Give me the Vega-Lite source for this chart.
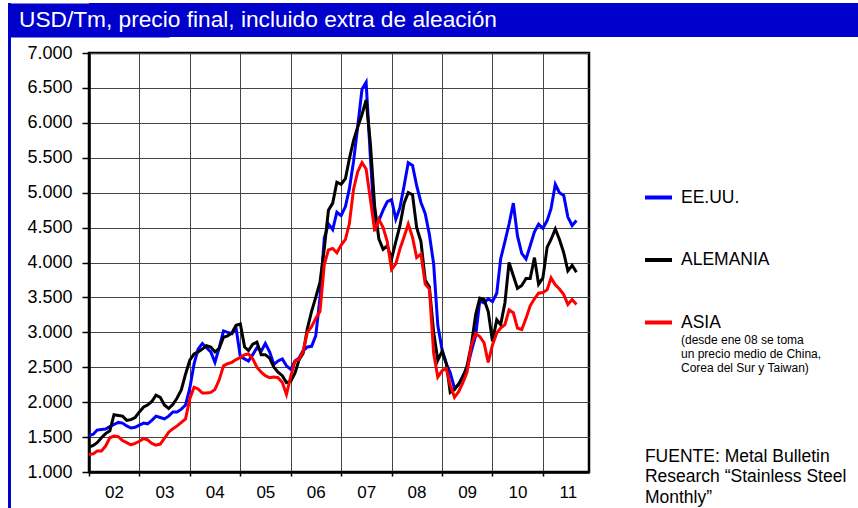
{
  "$schema": "https://vega.github.io/schema/vega-lite/v6.json",
  "padding": {"left": 6, "top": 3, "right": 0, "bottom": 0},
  "spacing": 0,
  "config": {
    "font": "Liberation Sans",
    "view": {"stroke": null},
    "locale": {"number": {"decimal": ",", "thousands": ".", "grouping": [3], "currency": ["", " €"]}}
  },
  "hconcat": [
    {
      "data": {"values": [{"k": 1}]},
      "width": 3,
      "height": 505,
      "view": {"fill": "#0000CC", "stroke": null},
      "mark": {"type": "point", "opacity": 0},
      "encoding": {}
    },
    {
      "spacing": 5,
      "vconcat": [
        {
          "data": {"values": [{"t": "USD/Tm, precio final, incluido extra de aleación"}]},
          "width": 769,
          "height": 34,
          "view": {"fill": "#0000CC", "stroke": null},
          "mark": {"type": "text", "align": "left", "baseline": "middle", "color": "white", "fontSize": 22.7, "font": "Liberation Sans", "dx": -70},
          "encoding": {
            "text": {"field": "t"},
            "x": {"datum": 0, "type": "quantitative", "scale": {"domain": [0, 1]}, "axis": null},
            "y": {"datum": 0.5, "type": "quantitative", "scale": {"domain": [0, 1]},
                  "axis": {"title": null, "labels": false, "ticks": false, "grid": false, "domain": true, "domainColor": "#0000CC", "domainWidth": 160, "domainCap": "butt", "zindex": 0, "minExtent": 0}}
          }
        },
        {
          "spacing": 0,
          "hconcat": [
            {
              "width": 500,
              "height": 419,
              "view": {"stroke": "black", "strokeWidth": 2.5},
              "data": {"values": [
                {"fecha": "2002-01-01", "EEUU": 1520, "ALEMANIA": 1357, "ASIA": 1250},
                {"fecha": "2002-02-01", "EEUU": 1540, "ALEMANIA": 1380, "ASIA": 1260},
                {"fecha": "2002-03-01", "EEUU": 1600, "ALEMANIA": 1420, "ASIA": 1300},
                {"fecha": "2002-04-01", "EEUU": 1610, "ALEMANIA": 1490, "ASIA": 1300},
                {"fecha": "2002-05-01", "EEUU": 1615, "ALEMANIA": 1550, "ASIA": 1370},
                {"fecha": "2002-06-01", "EEUU": 1650, "ALEMANIA": 1590, "ASIA": 1490},
                {"fecha": "2002-07-01", "EEUU": 1680, "ALEMANIA": 1820, "ASIA": 1515},
                {"fecha": "2002-08-01", "EEUU": 1710, "ALEMANIA": 1810, "ASIA": 1505},
                {"fecha": "2002-09-01", "EEUU": 1700, "ALEMANIA": 1800, "ASIA": 1450},
                {"fecha": "2002-10-01", "EEUU": 1660, "ALEMANIA": 1740, "ASIA": 1420},
                {"fecha": "2002-11-01", "EEUU": 1630, "ALEMANIA": 1750, "ASIA": 1390},
                {"fecha": "2002-12-01", "EEUU": 1640, "ALEMANIA": 1780, "ASIA": 1410},
                {"fecha": "2003-01-01", "EEUU": 1670, "ALEMANIA": 1860, "ASIA": 1440},
                {"fecha": "2003-02-01", "EEUU": 1700, "ALEMANIA": 1930, "ASIA": 1480},
                {"fecha": "2003-03-01", "EEUU": 1690, "ALEMANIA": 1960, "ASIA": 1460},
                {"fecha": "2003-04-01", "EEUU": 1740, "ALEMANIA": 2010, "ASIA": 1410},
                {"fecha": "2003-05-01", "EEUU": 1800, "ALEMANIA": 2100, "ASIA": 1385},
                {"fecha": "2003-06-01", "EEUU": 1780, "ALEMANIA": 2070, "ASIA": 1400},
                {"fecha": "2003-07-01", "EEUU": 1760, "ALEMANIA": 1960, "ASIA": 1480},
                {"fecha": "2003-08-01", "EEUU": 1800, "ALEMANIA": 1910, "ASIA": 1570},
                {"fecha": "2003-09-01", "EEUU": 1860, "ALEMANIA": 1970, "ASIA": 1620},
                {"fecha": "2003-10-01", "EEUU": 1860, "ALEMANIA": 2060, "ASIA": 1660},
                {"fecha": "2003-11-01", "EEUU": 1900, "ALEMANIA": 2180, "ASIA": 1710},
                {"fecha": "2003-12-01", "EEUU": 1960, "ALEMANIA": 2400, "ASIA": 1760},
                {"fecha": "2004-01-01", "EEUU": 2200, "ALEMANIA": 2600, "ASIA": 2050},
                {"fecha": "2004-02-01", "EEUU": 2550, "ALEMANIA": 2690, "ASIA": 2215},
                {"fecha": "2004-03-01", "EEUU": 2760, "ALEMANIA": 2720, "ASIA": 2190},
                {"fecha": "2004-04-01", "EEUU": 2840, "ALEMANIA": 2760, "ASIA": 2130},
                {"fecha": "2004-05-01", "EEUU": 2780, "ALEMANIA": 2810, "ASIA": 2130},
                {"fecha": "2004-06-01", "EEUU": 2720, "ALEMANIA": 2790, "ASIA": 2140},
                {"fecha": "2004-07-01", "EEUU": 2570, "ALEMANIA": 2720, "ASIA": 2180},
                {"fecha": "2004-08-01", "EEUU": 2780, "ALEMANIA": 2770, "ASIA": 2320},
                {"fecha": "2004-09-01", "EEUU": 3020, "ALEMANIA": 2930, "ASIA": 2520},
                {"fecha": "2004-10-01", "EEUU": 3000, "ALEMANIA": 2950, "ASIA": 2550},
                {"fecha": "2004-11-01", "EEUU": 2980, "ALEMANIA": 2990, "ASIA": 2570},
                {"fecha": "2004-12-01", "EEUU": 3060, "ALEMANIA": 3100, "ASIA": 2610},
                {"fecha": "2005-01-01", "EEUU": 2650, "ALEMANIA": 3120, "ASIA": 2640},
                {"fecha": "2005-02-01", "EEUU": 2620, "ALEMANIA": 2790, "ASIA": 2680},
                {"fecha": "2005-03-01", "EEUU": 2590, "ALEMANIA": 2740, "ASIA": 2690},
                {"fecha": "2005-04-01", "EEUU": 2680, "ALEMANIA": 2830, "ASIA": 2620},
                {"fecha": "2005-05-01", "EEUU": 2780, "ALEMANIA": 2860, "ASIA": 2500},
                {"fecha": "2005-06-01", "EEUU": 2730, "ALEMANIA": 2680, "ASIA": 2430},
                {"fecha": "2005-07-01", "EEUU": 2840, "ALEMANIA": 2680, "ASIA": 2380},
                {"fecha": "2005-08-01", "EEUU": 2720, "ALEMANIA": 2630, "ASIA": 2350},
                {"fecha": "2005-09-01", "EEUU": 2540, "ALEMANIA": 2500, "ASIA": 2360},
                {"fecha": "2005-10-01", "EEUU": 2590, "ALEMANIA": 2430, "ASIA": 2350},
                {"fecha": "2005-11-01", "EEUU": 2620, "ALEMANIA": 2380, "ASIA": 2280},
                {"fecha": "2005-12-01", "EEUU": 2520, "ALEMANIA": 2280, "ASIA": 2110},
                {"fecha": "2006-01-01", "EEUU": 2470, "ALEMANIA": 2300, "ASIA": 2370},
                {"fecha": "2006-02-01", "EEUU": 2590, "ALEMANIA": 2420, "ASIA": 2590},
                {"fecha": "2006-03-01", "EEUU": 2630, "ALEMANIA": 2600, "ASIA": 2610},
                {"fecha": "2006-04-01", "EEUU": 2740, "ALEMANIA": 2700, "ASIA": 2730},
                {"fecha": "2006-05-01", "EEUU": 2790, "ALEMANIA": 3050, "ASIA": 3000},
                {"fecha": "2006-06-01", "EEUU": 2800, "ALEMANIA": 3300, "ASIA": 3080},
                {"fecha": "2006-07-01", "EEUU": 2950, "ALEMANIA": 3500, "ASIA": 3200},
                {"fecha": "2006-08-01", "EEUU": 3500, "ALEMANIA": 3720, "ASIA": 3300},
                {"fecha": "2006-09-01", "EEUU": 4350, "ALEMANIA": 4200, "ASIA": 3970},
                {"fecha": "2006-10-01", "EEUU": 4550, "ALEMANIA": 4750, "ASIA": 4180},
                {"fecha": "2006-11-01", "EEUU": 4470, "ALEMANIA": 4850, "ASIA": 4200},
                {"fecha": "2006-12-01", "EEUU": 4720, "ALEMANIA": 5150, "ASIA": 4140},
                {"fecha": "2007-01-01", "EEUU": 4670, "ALEMANIA": 5120, "ASIA": 4250},
                {"fecha": "2007-02-01", "EEUU": 4800, "ALEMANIA": 5200, "ASIA": 4330},
                {"fecha": "2007-03-01", "EEUU": 5050, "ALEMANIA": 5480, "ASIA": 4550},
                {"fecha": "2007-04-01", "EEUU": 5450, "ALEMANIA": 5750, "ASIA": 5050},
                {"fecha": "2007-05-01", "EEUU": 5950, "ALEMANIA": 5940, "ASIA": 5300},
                {"fecha": "2007-06-01", "EEUU": 6480, "ALEMANIA": 6120, "ASIA": 5430},
                {"fecha": "2007-07-01", "EEUU": 6580, "ALEMANIA": 6330, "ASIA": 5340},
                {"fecha": "2007-08-01", "EEUU": 5500, "ALEMANIA": 5700, "ASIA": 4900},
                {"fecha": "2007-09-01", "EEUU": 4500, "ALEMANIA": 4800, "ASIA": 4450},
                {"fecha": "2007-10-01", "EEUU": 4600, "ALEMANIA": 4340, "ASIA": 4620},
                {"fecha": "2007-11-01", "EEUU": 4750, "ALEMANIA": 4190, "ASIA": 4500},
                {"fecha": "2007-12-01", "EEUU": 4870, "ALEMANIA": 4240, "ASIA": 4300},
                {"fecha": "2008-01-01", "EEUU": 4900, "ALEMANIA": 4050, "ASIA": 3900},
                {"fecha": "2008-02-01", "EEUU": 4620, "ALEMANIA": 4300, "ASIA": 3980},
                {"fecha": "2008-03-01", "EEUU": 4780, "ALEMANIA": 4520, "ASIA": 4190},
                {"fecha": "2008-04-01", "EEUU": 5100, "ALEMANIA": 4850, "ASIA": 4370},
                {"fecha": "2008-05-01", "EEUU": 5430, "ALEMANIA": 5000, "ASIA": 4550},
                {"fecha": "2008-06-01", "EEUU": 5390, "ALEMANIA": 4970, "ASIA": 4360},
                {"fecha": "2008-07-01", "EEUU": 5100, "ALEMANIA": 4500, "ASIA": 4070},
                {"fecha": "2008-08-01", "EEUU": 4860, "ALEMANIA": 4300, "ASIA": 4120},
                {"fecha": "2008-09-01", "EEUU": 4700, "ALEMANIA": 3750, "ASIA": 3690},
                {"fecha": "2008-10-01", "EEUU": 4400, "ALEMANIA": 3650, "ASIA": 3620},
                {"fecha": "2008-11-01", "EEUU": 3980, "ALEMANIA": 3000, "ASIA": 2700},
                {"fecha": "2008-12-01", "EEUU": 3100, "ALEMANIA": 2600, "ASIA": 2360},
                {"fecha": "2009-01-01", "EEUU": 2750, "ALEMANIA": 2730, "ASIA": 2450},
                {"fecha": "2009-02-01", "EEUU": 2550, "ALEMANIA": 2550, "ASIA": 2480},
                {"fecha": "2009-03-01", "EEUU": 2420, "ALEMANIA": 2140, "ASIA": 2250},
                {"fecha": "2009-04-01", "EEUU": 2200, "ALEMANIA": 2180, "ASIA": 2070},
                {"fecha": "2009-05-01", "EEUU": 2250, "ALEMANIA": 2260, "ASIA": 2150},
                {"fecha": "2009-06-01", "EEUU": 2380, "ALEMANIA": 2360, "ASIA": 2280},
                {"fecha": "2009-07-01", "EEUU": 2480, "ALEMANIA": 2520, "ASIA": 2430},
                {"fecha": "2009-08-01", "EEUU": 2730, "ALEMANIA": 2820, "ASIA": 2820},
                {"fecha": "2009-09-01", "EEUU": 2950, "ALEMANIA": 3250, "ASIA": 2980},
                {"fecha": "2009-10-01", "EEUU": 3450, "ALEMANIA": 3490, "ASIA": 2940},
                {"fecha": "2009-11-01", "EEUU": 3420, "ALEMANIA": 3470, "ASIA": 2850},
                {"fecha": "2009-12-01", "EEUU": 3480, "ALEMANIA": 3300, "ASIA": 2570},
                {"fecha": "2010-01-01", "EEUU": 3440, "ALEMANIA": 2870, "ASIA": 2820},
                {"fecha": "2010-02-01", "EEUU": 3560, "ALEMANIA": 3180, "ASIA": 2990},
                {"fecha": "2010-03-01", "EEUU": 4050, "ALEMANIA": 3110, "ASIA": 3060},
                {"fecha": "2010-04-01", "EEUU": 4300, "ALEMANIA": 3420, "ASIA": 3110},
                {"fecha": "2010-05-01", "EEUU": 4550, "ALEMANIA": 4000, "ASIA": 3320},
                {"fecha": "2010-06-01", "EEUU": 4850, "ALEMANIA": 3810, "ASIA": 3280},
                {"fecha": "2010-07-01", "EEUU": 4380, "ALEMANIA": 3630, "ASIA": 3060},
                {"fecha": "2010-08-01", "EEUU": 4130, "ALEMANIA": 3670, "ASIA": 3040},
                {"fecha": "2010-09-01", "EEUU": 4050, "ALEMANIA": 3770, "ASIA": 3200},
                {"fecha": "2010-10-01", "EEUU": 4240, "ALEMANIA": 3770, "ASIA": 3380},
                {"fecha": "2010-11-01", "EEUU": 4440, "ALEMANIA": 4070, "ASIA": 3480},
                {"fecha": "2010-12-01", "EEUU": 4550, "ALEMANIA": 3690, "ASIA": 3560},
                {"fecha": "2011-01-01", "EEUU": 4490, "ALEMANIA": 3780, "ASIA": 3570},
                {"fecha": "2011-02-01", "EEUU": 4600, "ALEMANIA": 4220, "ASIA": 3610},
                {"fecha": "2011-03-01", "EEUU": 4770, "ALEMANIA": 4330, "ASIA": 3780},
                {"fecha": "2011-04-01", "EEUU": 5120, "ALEMANIA": 4480, "ASIA": 3680},
                {"fecha": "2011-05-01", "EEUU": 5000, "ALEMANIA": 4330, "ASIA": 3620},
                {"fecha": "2011-06-01", "EEUU": 4960, "ALEMANIA": 4140, "ASIA": 3540},
                {"fecha": "2011-07-01", "EEUU": 4650, "ALEMANIA": 3880, "ASIA": 3400},
                {"fecha": "2011-08-01", "EEUU": 4530, "ALEMANIA": 3960, "ASIA": 3470},
                {"fecha": "2011-09-01", "EEUU": 4600, "ALEMANIA": 3860, "ASIA": 3400}
              ]},
              "transform": [{"fold": ["EEUU", "ALEMANIA", "ASIA"], "as": ["serie", "valor"]}],
              "mark": {"type": "line", "strokeWidth": 3},
              "encoding": {
                "x": {
                  "field": "fecha", "type": "temporal",
                  "scale": {"type": "utc", "domain": [{"year": 2002, "month": 1, "date": 1, "utc": true}, {"year": 2011, "month": 12, "date": 1, "utc": true}]},
                  "axis": {
                    "title": null,
                    "tickCount": {"interval": "year", "step": 1},
                    "format": "%y",
                    "labelOffset": 25,
                    "labelFlush": false,
                    "labelOverlap": false,
                    "labelFontSize": 17,
                    "labelColor": "black",
                    "labelPadding": 8,
                    "tickSize": 4,
                    "tickColor": "black",
                    "tickWidth": 1.5,
                    "domainColor": "black",
                    "domainWidth": 2.5,
                    "grid": true,
                    "gridColor": "#444",
                    "gridWidth": 1
                  }
                },
                "y": {
                  "field": "valor", "type": "quantitative",
                  "scale": {"domain": [1000, 7000], "nice": false, "zero": false},
                  "axis": {
                    "title": null,
                    "tickCount": 12,
                    "format": ",.0f",
                    "labelFontSize": 18,
                    "labelColor": "black",
                    "labelPadding": 10,
                    "labelOverlap": false,
                    "labelFlush": false,
                    "tickSize": 7,
                    "tickColor": "black",
                    "tickWidth": 1.5,
                    "domainColor": "black",
                    "domainWidth": 2.5,
                    "grid": true,
                    "gridColor": "#444",
                    "gridWidth": 1,
                    "minExtent": 74
                  }
                },
                "color": {
                  "field": "serie", "type": "nominal",
                  "scale": {"domain": ["EEUU", "ALEMANIA", "ASIA"], "range": ["#0000FF", "#000000", "#FF0000"]},
                  "legend": {
                    "title": null,
                    "orient": "none",
                    "legendX": 635,
                    "legendY": 179,
                    "symbolType": "stroke",
                    "symbolSize": 729,
                    "symbolStrokeWidth": 4,
                    "labelFontSize": 17.5,
                    "labelColor": "black",
                    "labelOffset": 7,
                    "rowPadding": 38.5,
                    "labelLimit": 0,
                    "labelExpr": "datum.label == 'EEUU' ? 'EE.UU.' : datum.label"
                  }
                }
              }
            },
            {
              "width": 267,
              "height": 419,
              "layer": [
                {
                  "data": {"values": [{"texto": "(desde ene 08 se toma|un precio medio de China,|Corea del Sur y Taiwan)"}]},
                  "mark": {"type": "text", "align": "left", "baseline": "alphabetic", "fontSize": 12, "lineHeight": 14, "lineBreak": "|", "color": "black"},
                  "encoding": {
                    "text": {"field": "texto"},
                    "x": {"datum": 0.337, "type": "quantitative", "scale": {"domain": [0, 1]}, "axis": null},
                    "y": {"datum": 0.3055, "type": "quantitative", "scale": {"domain": [0, 1]}, "axis": null}
                  }
                },
                {
                  "data": {"values": [{"texto": "FUENTE: Metal Bulletin|Research “Stainless Steel|Monthly”"}]},
                  "mark": {"type": "text", "align": "left", "baseline": "alphabetic", "fontSize": 17.5, "lineHeight": 20.5, "lineBreak": "|", "color": "black"},
                  "encoding": {
                    "text": {"field": "texto"},
                    "x": {"datum": 0.202, "type": "quantitative", "scale": {"domain": [0, 1]}, "axis": null},
                    "y": {"datum": 0.025, "type": "quantitative", "scale": {"domain": [0, 1]}, "axis": null}
                  }
                }
              ]
            }
          ]
        }
      ]
    }
  ]
}
